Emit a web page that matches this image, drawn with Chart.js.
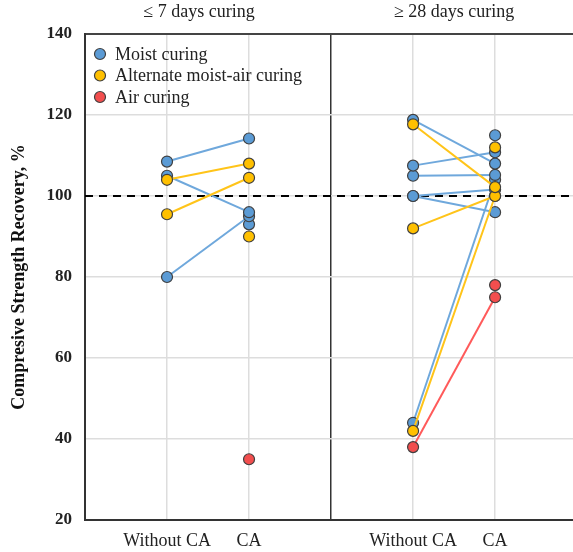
<!DOCTYPE html>
<html>
<head>
<meta charset="utf-8">
<script src="https://cdn.jsdelivr.net/npm/chart.js@4.4.1/dist/chart.umd.min.js"></script>
<style>
  body { margin: 0; background: #fff; overflow: hidden; }
  #wrap { width: 573px; height: 552px; }
</style>
</head>
<body>
<div id="wrap"><canvas id="recovery"></canvas></div>
<script>
const categories = ['Without CA', 'CA'];
const panelTitles = ['\u2264 7 days curing', '\u2265 28 days curing'];
const seriesNames = ['Moist curing', 'Alternate moist-air curing', 'Air curing'];
const referenceLevel = 100;

// <= 7 days curing (paired Without CA -> CA, plus CA points with no partner)
const moist7Without = [108.5, 105, 80];
const moist7CA = [114.2, 96, 95];
const moist7Single = [93];
const alt7Without = [104, 95.5];
const alt7CA = [108, 104.5];
const alt7Single = [90];
const air7Single = [35];

// >= 28 days curing
const moist28Without = [118.8, 107.5, 105, 100, 100, 44];
const moist28CA = [108, 110.8, 105.2, 101.6, 96, 104];
const moist28Single = [115];
const alt28Without = [117.7, 92, 42];
const alt28CA = [102.2, 100, 100];
const alt28Single = [112];
const air28Without = [38];
const air28CA = [75];
const air28Single = [78];

const pointColors = ['#5B9BD5', '#FFC000', '#F24E4E'];
const lineColors = ['#6FA8DC', '#FFC419', '#FF5A5A'];
const serif = 'Liberation Serif';

function pairSets(without, ca, offset, s) {
  return without.map((w, i) => ({
    data: [{ x: offset + 1, y: w }, { x: offset + 2, y: ca[i] }],
    showLine: true,
    borderColor: lineColors[s],
    borderWidth: 2,
    pointBackgroundColor: pointColors[s],
    pointBorderColor: '#404040',
    pointBorderWidth: 1.2,
    pointRadius: 5.5,
  }));
}

function singleSet(values, x, s) {
  return [{
    data: values.map((v) => ({ x: x, y: v })),
    showLine: false,
    pointBackgroundColor: pointColors[s],
    pointBorderColor: '#404040',
    pointBorderWidth: 1.2,
    pointRadius: 5.5,
  }];
}

// first dataset is drawn on top: red, yellow, blue, then the 100 % line
let datasets = [].concat(
  singleSet(air7Single, 2, 2),
  pairSets(air28Without, air28CA, 3, 2),
  singleSet(air28Single, 5, 2),
  pairSets(alt7Without, alt7CA, 0, 1),
  singleSet(alt7Single, 2, 1),
  pairSets(alt28Without, alt28CA, 3, 1),
  singleSet(alt28Single, 5, 1),
  pairSets(moist7Without, moist7CA, 0, 0),
  singleSet(moist7Single, 2, 0),
  pairSets(moist28Without, moist28CA, 3, 0),
  singleSet(moist28Single, 5, 0),
  [{
    data: [{ x: 0, y: referenceLevel }, { x: 6, y: referenceLevel }],
    showLine: true,
    borderColor: '#000',
    borderWidth: 2,
    borderDash: [8, 6],
    pointRadius: 0,
  }]
);

// panel headings above the plot and the legend inside the left panel
const panelTitlePlugin = {
  id: 'panelTitles',
  afterDraw(chart) {
    let ctx = chart.ctx;
    let xs = chart.scales.x;
    let area = chart.chartArea;
    ctx.save();
    ctx.font = '18px ' + serif;
    ctx.fillStyle = '#222';
    ctx.textAlign = 'center';
    ctx.textBaseline = 'middle';
    ctx.fillText(panelTitles[0], xs.getPixelForValue(1.39), 12);
    ctx.fillText(panelTitles[1], xs.getPixelForValue(4.5), 12);

    ctx.textAlign = 'left';
    seriesNames.forEach((n, i) => {
      let y = area.top + 20 + i * 21.5;
      ctx.beginPath();
      ctx.arc(area.left + 15, y, 5.5, 0, Math.PI * 2);
      ctx.fillStyle = pointColors[i];
      ctx.fill();
      ctx.lineWidth = 1.2;
      ctx.strokeStyle = '#404040';
      ctx.stroke();
      ctx.fillStyle = '#222';
      ctx.fillText(n, area.left + 30, y + 1);
    });
    ctx.restore();
  },
};

let ctx = document.getElementById('recovery').getContext('2d');
new Chart(ctx, {
  type: 'scatter',
  data: { datasets: datasets },
  plugins: [panelTitlePlugin],
  options: {
    responsive: true,
    maintainAspectRatio: false,
    animation: false,
    layout: { autoPadding: false, padding: { top: 34, right: 0, left: 9, bottom: 0 } },
    plugins: {
      tooltip: { enabled: false },
      legend: { display: false },
    },
    scales: {
      x: {
        type: 'linear',
        min: 0,
        max: 5.95,
        afterBuildTicks: (s) => {
          s.ticks = [0, 1, 2, 3, 4, 5].map((v) => ({ value: v }));
        },
        afterFit: (s) => { s.height = 32; },
        ticks: {
          color: '#222',
          font: { family: serif, size: 18 },
          padding: 10,
          callback: (v) => {
            if (v === 1 || v === 4) return categories[0];
            if (v === 2 || v === 5) return categories[1];
            return '';
          },
        },
        grid: {
          drawTicks: false,
          color: (c) => (c.tick && c.tick.value === 3 ? '#333' : '#DDDDDD'),
          lineWidth: 1.5,
        },
        border: { color: '#333', width: 2 },
      },
      y: {
        min: 20,
        max: 140,
        afterFit: (s) => { s.width = 76; },
        ticks: {
          stepSize: 20,
          color: '#222',
          padding: 13,
          font: { family: serif, size: 17, weight: 'bold' },
        },
        grid: {
          drawTicks: false,
          color: (c) => (c.tick && c.tick.value === 140 ? '#444' : '#DDDDDD'),
          lineWidth: (c) => (c.tick && c.tick.value === 140 ? 2 : 1.5),
        },
        border: { color: '#333', width: 2 },
        title: {
          display: true,
          text: 'Compresive Strength Recovery, %',
          color: '#111',
          padding: { top: 0, bottom: 8 },
          font: { family: serif, size: 18, weight: 'bold' },
        },
      },
    },
  },
});
</script>
</body>
</html>
